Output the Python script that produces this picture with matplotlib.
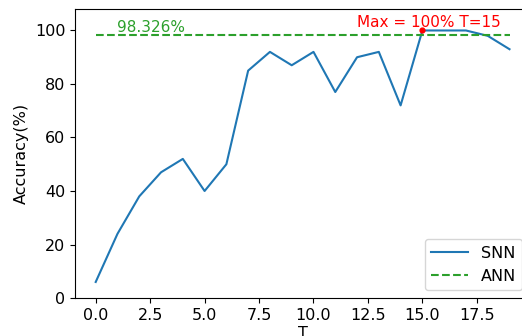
import numpy as np
import matplotlib
matplotlib.use("Agg")
import matplotlib.pyplot as plt

# ---------- data ----------
T = list(range(20))
snn_acc = [6, 24, 38, 47, 52, 40, 50, 85, 92, 87, 92, 77, 90, 92, 72, 100, 100, 100, 98, 93]
ann_acc = 98.326

# ---------- plot ----------
fig = plt.figure(figsize=(5.22, 3.36), dpi=100)
ax = fig.add_axes([0.1437, 0.113, 0.872, 0.860])

ax.plot(T, snn_acc, color='#1f77b4', linewidth=1.5, label='SNN')
ax.plot(T, [ann_acc] * len(T), color='#2ca02c', linestyle='--', linewidth=1.5, label='ANN')

best = int(np.argmax(snn_acc))
ax.scatter([T[best]], [snn_acc[best]], color='red', s=12, zorder=5)
ax.text(12, 101.2, "Max = %d%% T=%d" % (snn_acc[best], T[best]), color='red', fontsize=11)
ax.text(1, 99.5, "%.3f%%" % ann_acc, color='#2ca02c', fontsize=11)

ax.set_xlim(-0.95, 19.95)
ax.set_ylim(0, 108)
ax.set_xticks([0, 2.5, 5, 7.5, 10, 12.5, 15, 17.5])
ax.set_yticks([0, 20, 40, 60, 80, 100])
ax.tick_params(labelsize=11.5)
ax.set_xlabel("T", fontsize=11.5, labelpad=2)
ax.set_ylabel("Accuracy(%)", fontsize=11.5)
ax.legend(fontsize=11.5, loc='lower right', handlelength=2.3)

fig.savefig("out.png", dpi=100)
